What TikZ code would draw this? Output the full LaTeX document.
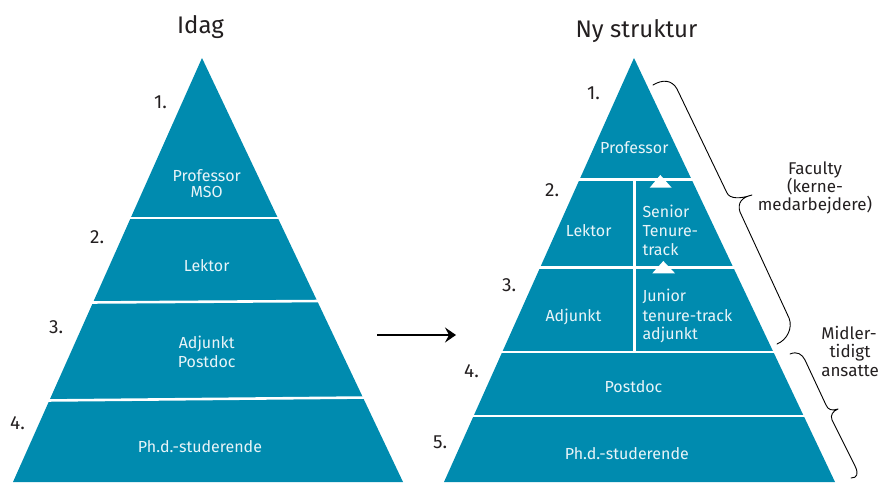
\documentclass[tikz,border=0pt]{standalone}
\usepackage{fontspec}
\setmainfont{Fira Sans}
\usetikzlibrary{arrows.meta}
\definecolor{pyr}{RGB}{0,139,175}
\definecolor{ink}{RGB}{35,31,32}
\definecolor{wtxt}{RGB}{232,244,248}
\begin{document}
\begin{tikzpicture}[x=1pt,y=-1pt,
  wt/.style={text=wtxt,font=\fontsize{16}{19}\selectfont,inner sep=0pt,anchor=base},
  wtl/.style={wt,anchor=base west},
  num/.style={text=ink,font=\fontsize{19}{22}\selectfont,inner sep=0pt,anchor=base west},
  ttl/.style={text=ink,font=\fontsize{24}{28}\selectfont,inner sep=0pt,anchor=base},
  side/.style={text=ink,font=\fontsize{17}{20}\selectfont,inner sep=0pt,anchor=base},
  sep/.style={draw=white,line width=2.6pt},
  brace/.style={draw=black,line width=0.9pt,line join=round,line cap=round}]
\useasboundingbox (0,0) rectangle (882,495);
% pyramids
\fill[pyr] (202,58) -- (403,482) -- (13,482) -- cycle;
\fill[pyr] (634,58) -- (835,482) -- (444,482) -- cycle;
% separators left
\draw[sep] (127,218) -- (282,218);
\draw[sep] (89,302.5) -- (322,301);
\draw[sep] (45,400.5) -- (368,397.5);
% separators right
\draw[sep] (575,179.5) -- (696,179.5);
\draw[sep] (536,267.5) -- (738,267.5);
\draw[sep] (497,352) -- (778,352);
\draw[sep] (469,416) -- (808,416);
\draw[draw=white,line width=2.2pt] (634.5,179.5) -- (634.5,352);
% small triangles
\fill[white] (660.3,175) -- (671.7,187.7) -- (649.7,187.7) -- cycle;
\fill[white] (663.3,261) -- (675,273.3) -- (652.3,273.3) -- cycle;
% titles
\node[ttl] (t1) at (200.5,33.3) {Idag};
\node[ttl] (t2) at (636.5,37.7) {Ny struktur};
% left numbers
\node[num] (l1) at (154,108.3) {1.};
\node[num] (l2) at (90,243) {2.};
\node[num] (l3) at (49,333.3) {3.};
\node[num] (l4) at (10,429) {4.};
% right numbers
\node[num] (r1) at (587,99.3) {1.};
\node[num] (r2) at (545,196) {2.};
\node[num] (r3) at (502,291) {3.};
\node[num] (r4) at (464,377.3) {4.};
\node[num] (r5) at (433,448) {5.};
% left texts
\node[wt] (lp1) at (206.7,181.7) {Professor};
\node[wt] (lp2) at (206.7,197) {MSO};
\node[wt] (llek) at (206.7,271.7) {Lektor};
\node[wt] (la1) at (206.7,348.3) {Adjunkt};
\node[wt] (la2) at (206.7,367.3) {Postdoc};
\node[wt] (lphd) at (200,452.3) {Ph.d.-studerende};
% right texts
\node[wt] (rprof) at (634.3,153.3) {Professor};
\node[wt] (rlek) at (588.7,236) {Lektor};
\node[wtl] (rs1) at (642.3,217.3) {Senior};
\node[wtl] (rs2) at (642.3,236) {Tenure-};
\node[wtl] (rs3) at (642.3,255) {track};
\node[wt] (radj) at (573.5,321) {Adjunkt};
\node[wtl] (rj1) at (642.3,301.7) {Junior};
\node[wtl] (rj2) at (642.3,321) {tenure-track};
\node[wtl] (rj3) at (642.3,339.3) {adjunkt};
\node[wt] (rpd) at (633.5,392.3) {Postdoc};
\node[wt] (rphd) at (626.8,459.3) {Ph.d.-studerende};
% side labels
\node[side] (f1) at (815,174) {Faculty};
\node[side] (f2) at (815,192.3) {(kerne-};
\node[side] (f3) at (815,210.7) {medarbejdere)};
\node[side] (m1) at (849,339) {Midler-};
\node[side] (m2) at (850,357.7) {tidigt};
\node[side] (m3) at (850,376) {ansatte};
% braces
\draw[brace] (653,85) .. controls (663,79) and (672,80) .. (677,89) -- (727,193)
  .. controls (730,199) and (740,199) .. (752,195)
  .. controls (742,197) and (737,203) .. (740,212) -- (789,318)
  .. controls (793,328) and (787,340) .. (777,344);
\draw[brace] (790,354) .. controls (797,351) and (802,354) .. (805,360) -- (826,405)
  .. controls (828,410) and (832,411) .. (838,409)
  .. controls (833,411) and (830,415) .. (832,420) -- (855,466)
  .. controls (859,474) and (857,478) .. (851,478);
% arrow
\coordinate (a1) at (377,335);
\coordinate (a2) at (456,335);
\draw[line width=1.6pt,-{Stealth[length=11pt,width=15pt,inset=4pt]}] (a1) -- (a2);
\end{tikzpicture}
\end{document}
